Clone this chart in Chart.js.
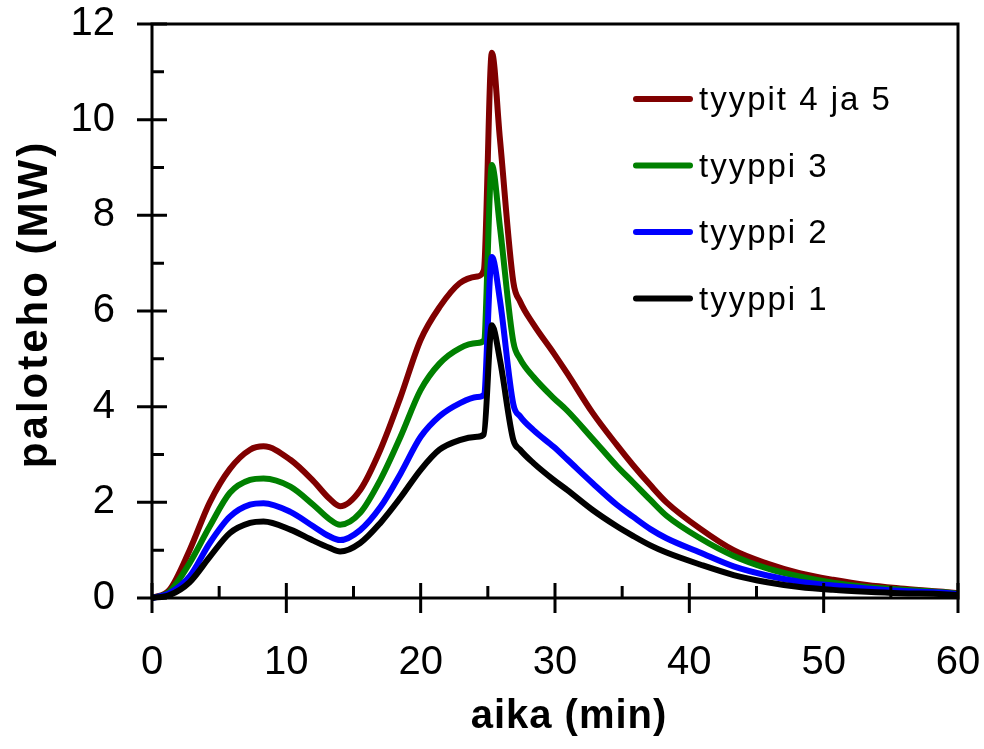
<!DOCTYPE html>
<html>
<head>
<meta charset="utf-8">
<script src="https://cdn.jsdelivr.net/npm/chart.js@4.4.1/dist/chart.umd.min.js"></script>
<style>
  body { margin: 0; background: #fff; }
  canvas { display: block; }
</style>
</head>
<body>
<canvas id="myChart" width="984" height="749"></canvas>
<script>
// aika (min)
const aika = [0, 1.3, 2.8, 4.3, 5.8, 7.3, 8.3, 10.3, 12, 13.2, 14, 15.5, 17, 18.5, 20, 21.4, 22.9, 24.2, 24.7, 25.3,
  25.9, 26.9, 27.4, 28.4, 29.9, 30.9, 32.8, 34.6, 35.8, 37.1, 38.3, 40.8, 43.3, 45.8, 48.2, 50.7, 53.2, 55.7, 58.9, 60];

// paloteho (MW) per series
const tyypit45 = [0, 0.17, 1.0, 2.0, 2.7, 3.1, 3.17, 2.89, 2.45, 2.08, 1.92, 2.26, 3.1, 4.2, 5.4, 6.08, 6.58, 6.72, 6.85, 11.4,
  9.6, 6.6, 6.2, 5.72, 5.12, 4.7, 3.87, 3.2, 2.78, 2.36, 2.0, 1.45, 1.0, 0.72, 0.52, 0.38, 0.27, 0.2, 0.13, 0.1];
const tyyppi3 = [0, 0.13, 0.73, 1.5, 2.2, 2.47, 2.5, 2.33, 1.95, 1.65, 1.53, 1.78, 2.47, 3.37, 4.35, 4.9, 5.22, 5.33, 5.38, 9.05,
  7.76, 5.35, 5.0, 4.62, 4.18, 3.92, 3.33, 2.76, 2.42, 2.05, 1.72, 1.25, 0.88, 0.62, 0.45, 0.32, 0.23, 0.18, 0.12, 0.09];
const tyyppi2 = [0, 0.1, 0.45, 1.15, 1.7, 1.95, 1.98, 1.8, 1.5, 1.29, 1.21, 1.42, 1.9, 2.6, 3.37, 3.8, 4.07, 4.2, 4.25, 7.13,
  6.23, 4.05, 3.8, 3.51, 3.16, 2.9, 2.4, 1.95, 1.7, 1.44, 1.25, 0.95, 0.66, 0.47, 0.34, 0.26, 0.2, 0.15, 0.11, 0.08];
const tyyppi1 = [0, 0.06, 0.33, 0.86, 1.36, 1.57, 1.6, 1.43, 1.2, 1.05, 0.97, 1.15, 1.57, 2.1, 2.68, 3.1, 3.3, 3.37, 3.42, 5.7,
  4.98, 3.3, 3.1, 2.82, 2.47, 2.26, 1.84, 1.5, 1.3, 1.1, 0.95, 0.7, 0.48, 0.33, 0.23, 0.17, 0.13, 0.1, 0.08, 0.06];

const seriesNames = ["tyypit 4 ja 5", "tyyppi 3", "tyyppi 2", "tyyppi 1"];
const seriesColors = ["#800000", "#008000", "#0000ff", "#000000"];
const xTickValues = [0, 10, 20, 30, 40, 50, 60];
const yTickValues = [0, 2, 4, 6, 8, 10, 12];
const xTitle = "aika (min)";
const yTitle = "paloteho (MW)";

const allSeries = [tyypit45, tyyppi3, tyyppi2, tyyppi1];

const toPoints = (vals) => aika.map((t, i) => ({ x: t, y: vals[i] }));

// axis box with crossing major ticks and inner minor ticks
const frame = {
  id: "frame",
  afterDatasetsDraw(chart) {
    const { ctx, chartArea: a, scales } = chart;
    const x = scales.x;
    const y = scales.y;
    ctx.save();
    ctx.strokeStyle = "#000";
    ctx.lineWidth = 3;
    ctx.strokeRect(a.left, a.top, a.right - a.left, a.bottom - a.top);
    ctx.beginPath();
    xTickValues.forEach((v, i) => {
      const px = x.getPixelForValue(v);
      ctx.moveTo(px, a.bottom - 15);
      ctx.lineTo(px, a.bottom + 15);
      if (i < xTickValues.length - 1) {
        const mx = x.getPixelForValue((v + xTickValues[i + 1]) / 2);
        ctx.moveTo(mx, a.bottom);
        ctx.lineTo(mx, a.bottom - 12);
      }
    });
    yTickValues.forEach((v, i) => {
      const py = y.getPixelForValue(v);
      ctx.moveTo(a.left - 15, py);
      ctx.lineTo(a.left + 15, py);
      if (i < yTickValues.length - 1) {
        const my = y.getPixelForValue((v + yTickValues[i + 1]) / 2);
        ctx.moveTo(a.left, my);
        ctx.lineTo(a.left + 12, my);
      }
    });
    ctx.stroke();
    ctx.restore();
  },
};

// axis titles, a bit spaced out like the original
const titles = {
  id: "titles",
  afterDraw(chart) {
    const ctx = chart.ctx;
    ctx.save();
    ctx.fillStyle = "#000";
    ctx.textAlign = "center";
    ctx.textBaseline = "middle";
    ctx.font = "bold 40px 'Liberation Sans', Arial, sans-serif";
    ctx.letterSpacing = "1px";
    ctx.fillText(xTitle, 569, 717);
    ctx.font = "bold 42px 'Liberation Sans', Arial, sans-serif";
    ctx.letterSpacing = "3px";
    ctx.translate(35, 304);
    ctx.rotate(-Math.PI / 2);
    ctx.fillText(yTitle, 0, 0);
    ctx.restore();
  },
};

// legend inside the plot, top right
const legendBox = {
  id: "legendBox",
  afterDraw(chart) {
    const ctx = chart.ctx;
    ctx.save();
    ctx.font = "33px 'Liberation Sans', Arial, sans-serif";
    ctx.letterSpacing = "2px";
    ctx.textBaseline = "middle";
    ctx.textAlign = "left";
    ctx.lineCap = "round";
    ctx.lineWidth = 6;
    chart.data.datasets.forEach((ds, i) => {
      const ry = 99 + i * 66.5;
      ctx.strokeStyle = ds.borderColor;
      ctx.beginPath();
      ctx.moveTo(636, ry);
      ctx.lineTo(690, ry);
      ctx.stroke();
      ctx.fillStyle = "#000";
      ctx.fillText(ds.label, 699, ry + 2);
    });
    ctx.restore();
  },
};

const fixX = (s) => {
  s.height = 151;
  s.paddingLeft = 0;
  s.paddingRight = 0;
};
const fixY = (s) => {
  s.width = 152;
  s.paddingTop = 0;
  s.paddingBottom = 0;
};

const ctx = document.getElementById("myChart");
const myChart = new Chart(ctx, {
  type: "line",
  data: {
    datasets: allSeries.map((vals, i) => ({
      label: seriesNames[i],
      data: toPoints(vals),
      borderColor: seriesColors[i],
      backgroundColor: seriesColors[i],
      borderWidth: 6,
      pointRadius: 0,
      cubicInterpolationMode: "monotone",
      clip: false,
      order: 4 - i,
    })),
  },
  options: {
    responsive: false,
    animation: false,
    events: [],
    layout: { padding: { top: 24, right: 26, left: 0, bottom: 0 } },
    plugins: { legend: { display: false }, tooltip: { enabled: false } },
    scales: {
      x: {
        type: "linear",
        min: 0,
        max: 60,
        afterBuildTicks: (s) => { s.ticks = xTickValues.map((v) => ({ value: v })); },
        afterFit: fixX,
        grid: { display: false, drawTicks: false },
        border: { display: false },
        ticks: {
          color: "#000",
          padding: 41,
          maxRotation: 0,
          font: { family: "'Liberation Sans', Arial, sans-serif", size: 40 },
        },
      },
      y: {
        min: 0,
        max: 12,
        afterBuildTicks: (s) => { s.ticks = yTickValues.map((v) => ({ value: v })); },
        afterFit: fixY,
        grid: { display: false, drawTicks: false },
        border: { display: false },
        ticks: {
          color: "#000",
          padding: 37,
          font: { family: "'Liberation Sans', Arial, sans-serif", size: 40 },
        },
      },
    },
  },
  plugins: [frame, titles, legendBox],
});
</script>
</body>
</html>
